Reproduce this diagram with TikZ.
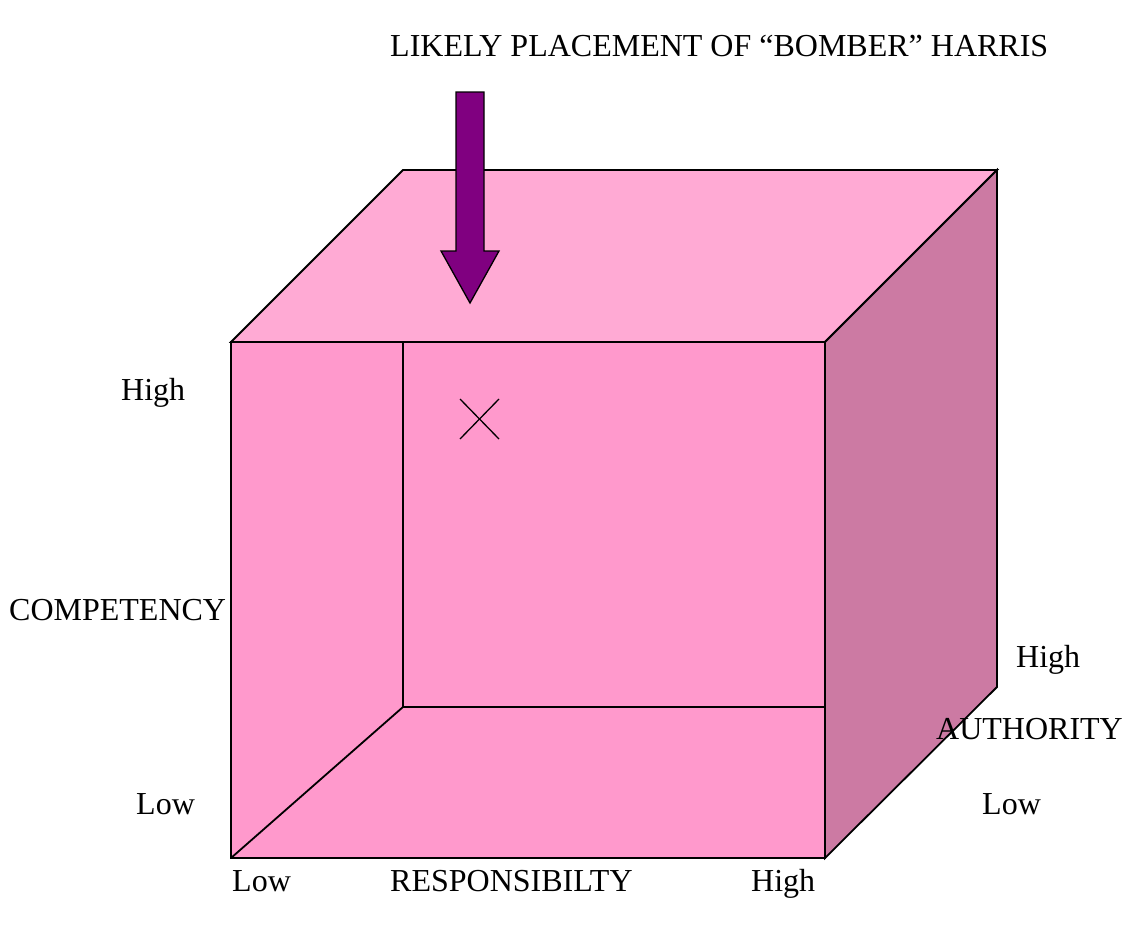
\documentclass[tikz,border=0pt]{standalone}
\usepackage{fontspec}
\setmainfont{Liberation Serif}
\definecolor{topface}{HTML}{FFAAD4}
\definecolor{frontface}{HTML}{FF99CC}
\definecolor{sideface}{HTML}{CC7AA3}
\definecolor{arrowpurple}{HTML}{800080}
\begin{document}
\begin{tikzpicture}[x=1pt,y=-1pt,
  lbl/.style={font=\fontsize{32}{37}\selectfont, inner sep=0pt, anchor=base west},
  edge/.style={draw=black, line width=1.8pt, line join=miter},
  thin edge/.style={draw=black, line width=1.3pt}]
\useasboundingbox (0,0) rectangle (1130,926);
% cube corners
\coordinate (FTL) at (231,342);
\coordinate (FTR) at (825,342);
\coordinate (FBL) at (231,858);
\coordinate (FBR) at (825,858);
\coordinate (BTL) at (403,170);
\coordinate (BTR) at (997,170);
\coordinate (BBR) at (997,687);
\coordinate (ITop) at (403,342);
\coordinate (ICorner) at (403,707);
\coordinate (IRight) at (825,707);
% faces
\filldraw[fill=topface, edge] (FTL) -- (BTL) -- (BTR) -- (FTR) -- cycle;
\filldraw[fill=sideface, edge] (FTR) -- (BTR) -- (BBR) -- (FBR) -- cycle;
\filldraw[fill=frontface, edge] (FTL) rectangle (FBR);
% inner lines
\draw[edge] (ITop) -- (ICorner) -- (IRight);
\draw[edge] (FBL) -- (ICorner);
% arrow
\filldraw[fill=arrowpurple, thin edge, line join=miter]
  (456,92) -- (484,92) -- (484,251) -- (499,251) -- (470,303) -- (441,251) -- (456,251) -- cycle;
% cross
\coordinate (X1) at (460,399);
\coordinate (X2) at (499,439);
\coordinate (X3) at (460,439);
\coordinate (X4) at (499,399);
\draw[thin edge] (X1) -- (X2);
\draw[thin edge] (X3) -- (X4);
% labels
\node[lbl] (title) at (390,56) {LIKELY PLACEMENT OF “BOMBER” HARRIS};
\node[lbl] (comphigh) at (121,400) {High};
\node[lbl] (comp) at (9,620) {COMPETENCY};
\node[lbl] (complow) at (136,814) {Low};
\node[lbl] (resplow) at (232,891) {Low};
\node[lbl] (resp) at (390,891) {RESPONSIBILTY};
\node[lbl] (resphigh) at (751,891) {High};
\node[lbl] (authhigh) at (1016,667) {High};
\node[lbl] (auth) at (936,739) {AUTHORITY};
\node[lbl] (authlow) at (982,814) {Low};
\end{tikzpicture}
\end{document}
